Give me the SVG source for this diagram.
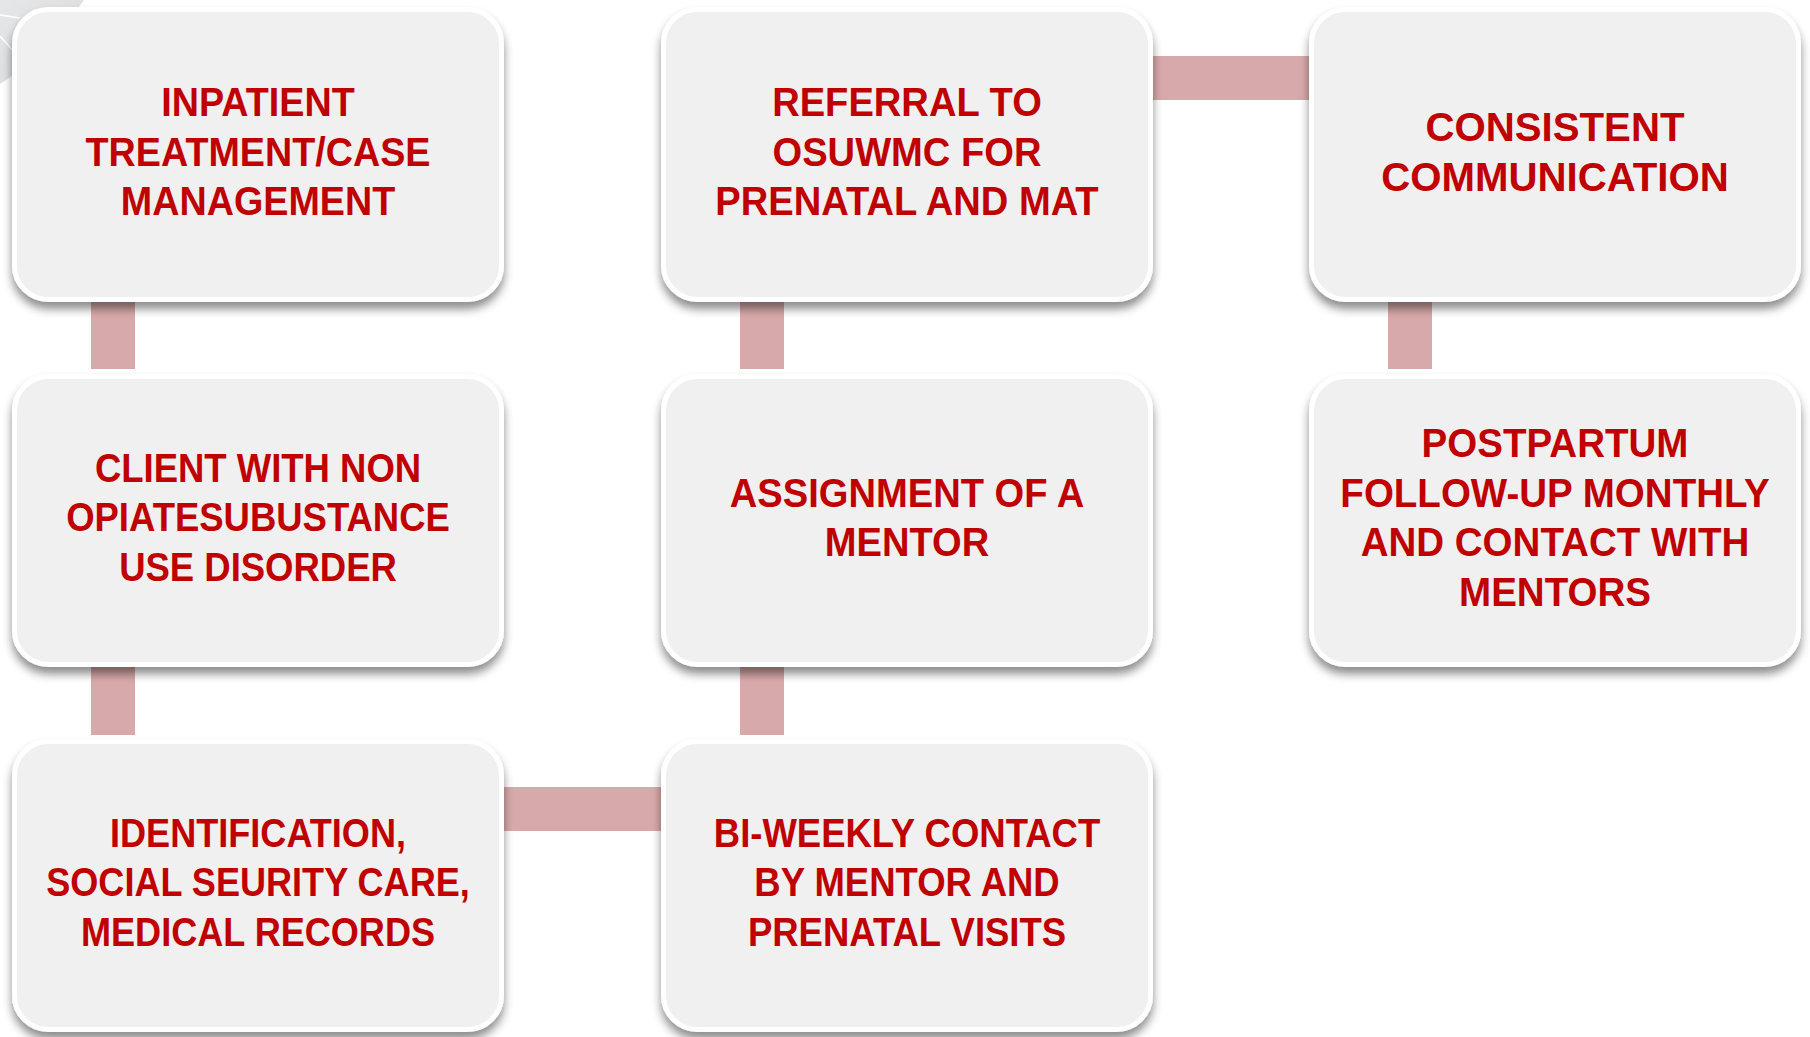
<svg xmlns="http://www.w3.org/2000/svg" width="1810" height="1037" viewBox="0 0 1810 1037">
  <defs>
    <filter id="lift" x="-10%" y="-10%" width="120%" height="125%">
      <feDropShadow dx="0" dy="7" stdDeviation="5" flood-color="#000" flood-opacity="0.45"/>
    </filter>
    <linearGradient id="globe" x1="0" y1="0" x2="1" y2="1">
      <stop offset="0" stop-color="#e6e7e9"/>
      <stop offset="1" stop-color="#d6d7da"/>
    </linearGradient>
  </defs>
  <style>
    .box { fill: #f0f0f0; stroke: #ffffff; stroke-width: 5; }
    .bar { fill: #d8a9aa; }
    .label { font-family: "Liberation Sans", Arial, sans-serif; font-weight: bold; font-size: 41px; fill: #c00000; text-anchor: middle; }
  </style>

  <rect width="1810" height="1037" fill="#ffffff"/>

  <!-- faint background ornament in the corner -->
  <g id="ornament">
    <path d="M0,0 L84,0 Q42,58 0,84 Z" fill="url(#globe)"/>
    <path d="M0,15 L20,18" stroke="#ffffff" stroke-width="1.5" fill="none"/>
    <path d="M0,36 L16,54" stroke="#ffffff" stroke-width="1.5" fill="none"/>
  </g>

  <!-- connectors between steps -->
  <g id="connectors">
    <rect class="bar" x="91" y="296" width="44" height="73"/>
    <rect class="bar" x="740" y="296" width="44" height="73"/>
    <rect class="bar" x="1388" y="296" width="44" height="73"/>
    <rect class="bar" x="91" y="660" width="44" height="75"/>
    <rect class="bar" x="740" y="660" width="44" height="75"/>
    <rect class="bar" x="1150" y="56" width="162" height="44"/>
    <rect class="bar" x="500" y="787" width="164" height="44"/>
  </g>

  <g id="node-inpatient">
    <rect class="box" x="14.5" y="9.5" width="487" height="290" rx="34" filter="url(#lift)"/>
    <g transform="translate(258 0) scale(0.92 1)">
      <text class="label" x="0" y="116.5">INPATIENT</text>
      <text class="label" x="0" y="166">TREATMENT/CASE</text>
      <text class="label" x="0" y="215.5">MANAGEMENT</text>
    </g>
  </g>

  <g id="node-referral">
    <rect class="box" x="663.5" y="9.5" width="487" height="290" rx="34" filter="url(#lift)"/>
    <g transform="translate(907 0) scale(0.93 1)">
      <text class="label" x="0" y="116.5">REFERRAL TO</text>
      <text class="label" x="0" y="166">OSUWMC FOR</text>
      <text class="label" x="0" y="215.5">PRENATAL AND MAT</text>
    </g>
  </g>

  <g id="node-communication">
    <rect class="box" x="1311.5" y="9.5" width="487" height="290" rx="34" filter="url(#lift)"/>
    <g transform="translate(1555 0) scale(0.98 1)">
      <text class="label" x="0" y="141.25">CONSISTENT</text>
      <text class="label" x="0" y="190.75">COMMUNICATION</text>
    </g>
  </g>

  <g id="node-client">
    <rect class="box" x="14.5" y="376.5" width="487" height="288" rx="34" filter="url(#lift)"/>
    <g transform="translate(258 0) scale(0.89 1)">
      <text class="label" x="0" y="482">CLIENT WITH NON</text>
      <text class="label" x="0" y="531.5">OPIATESUBUSTANCE</text>
      <text class="label" x="0" y="581">USE DISORDER</text>
    </g>
  </g>

  <g id="node-mentor">
    <rect class="box" x="663.5" y="376.5" width="487" height="288" rx="34" filter="url(#lift)"/>
    <g transform="translate(907 0) scale(0.93 1)">
      <text class="label" x="0" y="506.75">ASSIGNMENT OF A</text>
      <text class="label" x="0" y="556.25">MENTOR</text>
    </g>
  </g>

  <g id="node-postpartum">
    <rect class="box" x="1311.5" y="376.5" width="487" height="288" rx="34" filter="url(#lift)"/>
    <g transform="translate(1555 0) scale(0.94 1)">
      <text class="label" x="0" y="457.25">POSTPARTUM</text>
      <text class="label" x="0" y="506.75">FOLLOW-UP MONTHLY</text>
      <text class="label" x="0" y="556.25">AND CONTACT WITH</text>
      <text class="label" x="0" y="605.75">MENTORS</text>
    </g>
  </g>

  <g id="node-identification">
    <rect class="box" x="14.5" y="741.5" width="487" height="288" rx="34" filter="url(#lift)"/>
    <g transform="translate(258 0) scale(0.88 1)">
      <text class="label" x="0" y="847">IDENTIFICATION,</text>
      <text class="label" x="0" y="896.5">SOCIAL SEURITY CARE,</text>
      <text class="label" x="0" y="946">MEDICAL RECORDS</text>
    </g>
  </g>

  <g id="node-biweekly">
    <rect class="box" x="663.5" y="741.5" width="487" height="288" rx="34" filter="url(#lift)"/>
    <g transform="translate(907 0) scale(0.89 1)">
      <text class="label" x="0" y="847">BI-WEEKLY CONTACT</text>
      <text class="label" x="0" y="896.5">BY MENTOR AND</text>
      <text class="label" x="0" y="946">PRENATAL VISITS</text>
    </g>
  </g>
</svg>
